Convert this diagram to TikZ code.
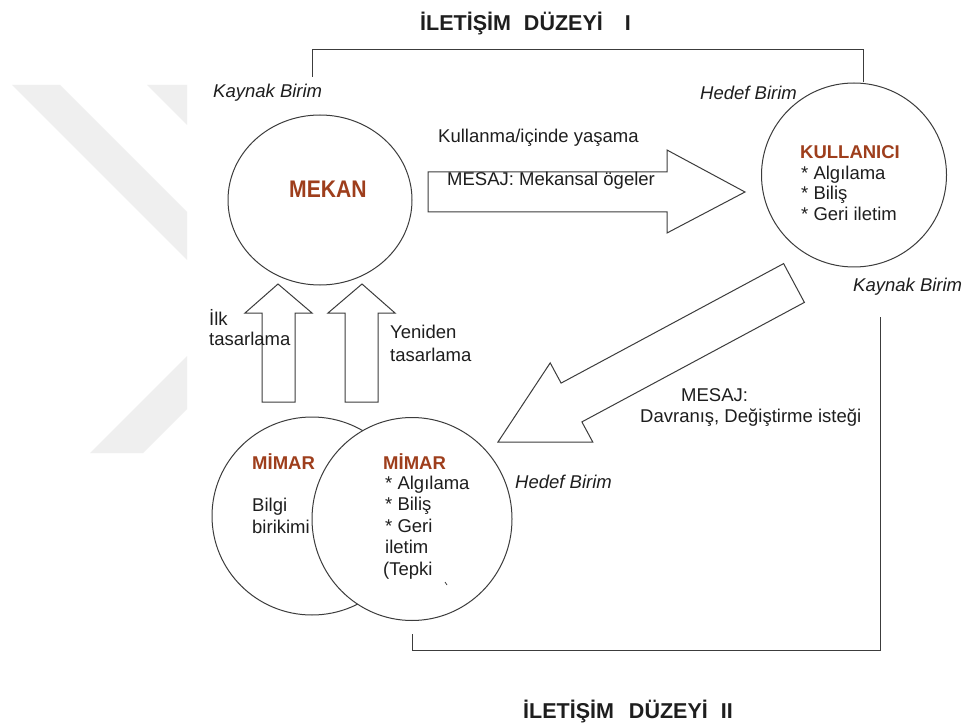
\documentclass[tikz,border=0pt]{standalone}
\usepackage{fontspec}
\setmainfont{Liberation Sans}
\usetikzlibrary{shapes.geometric}
\definecolor{ink}{RGB}{30,30,30}
\definecolor{linegray}{RGB}{60,60,60}
\definecolor{rust}{RGB}{158,62,28}
\definecolor{wmark}{RGB}{239,239,239}

\begin{document}
\begin{tikzpicture}[x=1pt,y=-1pt,
  txt/.style={inner sep=0pt, anchor=base west, text=ink, font=\fontsize{18.5}{22}\selectfont},
  lbl/.style={txt, font=\fontsize{18.5}{22}\selectfont\itshape},
  head/.style={txt, font=\fontsize{18.5}{22}\selectfont\bfseries, text=rust},
  big/.style={txt, font=\fontsize{24}{28}\selectfont\bfseries, text=rust},
  ttl/.style={txt, font=\fontsize{21.5}{24}\selectfont\bfseries},
  unit/.style={draw=linegray, line width=1pt, ellipse, inner sep=0pt},
  blockarrow/.style={draw=linegray, line width=1pt, line join=miter},
  link/.style={draw=linegray, line width=1pt}]
\useasboundingbox (0,0) rectangle (966,727);
\fill[white] (0,0) rectangle (966,727);

% faint background emblem
\fill[wmark] (12,85) -- (60,85) -- (187,212) -- (187,260) -- cycle;
\fill[wmark] (147,85) -- (187,85) -- (187,125) -- cycle;
\fill[wmark] (90,453) -- (143,453) -- (187,409) -- (187,356) -- cycle;

% titles
\node[ttl] (title1) at (420,31) {İLETİŞİM\hspace{13pt}DÜZEYİ\hspace{22pt}I};
\node[ttl] (title2) at (523,718) {İLETİŞİM\hspace{15pt}DÜZEYİ\hspace{13pt}II};

% units
\node[unit, minimum width=184pt, minimum height=170pt] (mekan) at (320,200) {};
\node[unit, minimum width=185pt, minimum height=184pt] (kullanici) at (854,175) {};
\node[unit, minimum width=200pt, minimum height=198pt] (mimarA) at (312,516) {};
\node[unit, fill=white, minimum width=200pt, minimum height=203pt] (mimarB) at (412,519) {};

% feedback brackets
\coordinate (b1s) at (312,77);
\coordinate (b1e) at (863,82);
\draw[link] (b1s) -- (b1s |- 0,50) -- (b1e |- 0,50) -- (b1e);
\coordinate (b2s) at (412,634);
\coordinate (b2e) at (880,317);
\draw[link] (b2s) -- (b2s |- 0,650) -- (b2e |- 0,650) -- (b2e);

% block arrows
\draw[blockarrow] (428,172) -- (667,172) -- (667,150) -- (745,192) -- (667,233) -- (667,212) -- (428,212) -- cycle;
\draw[blockarrow] (262,402) -- (262,313) -- (245,313) -- (278,284) -- (312,313) -- (295,313) -- (295,402) -- cycle;
\draw[blockarrow] (345,402) -- (345,313) -- (328,313) -- (362,284) -- (395,313) -- (378,313) -- (378,402) -- cycle;
\draw[blockarrow] (783.6,263.6) -- (804.4,302.4) -- (581.9,421.9) -- (592.8,442.1) -- (498,442) -- (550.2,362.9) -- (561.1,383.1) -- cycle;

% unit labels
\node[lbl] (src1) at (213,98) {Kaynak Birim};
\node[lbl] (dst1) at (700,100) {Hedef Birim};
\node[lbl] (src2) at (853,291) {Kaynak Birim};
\node[lbl] (dst2) at (515,488) {Hedef Birim};

% space
\node[big] (mekanT) at (289,198) {\scalebox{0.88}[1]{MEKAN}};

% user
\node[head] (kT) at (800,159) {KULLANICI};
\node[txt] (k1) at (801,180) {* Algılama};
\node[txt] (k2) at (801,200) {* Biliş};
\node[txt] (k3) at (801,221) {* Geri iletim};

% message 1
\node[txt] (m1a) at (438,143) {Kullanma/içinde yaşama};
\node[txt] (m1b) at (447,186) {MESAJ: Mekansal ögeler};

% message 2
\node[txt] (m2a) at (681,401) {MESAJ:};
\node[txt] (m2b) at (640,422) {Davranış, Değiştirme isteği};

% design arrows
\node[txt] (d1a) at (209,325) {İlk};
\node[txt] (d1b) at (209,345) {tasarlama};
\node[txt] (d2a) at (390,338) {Yeniden};
\node[txt] (d2b) at (390,361) {tasarlama};

% architect, knowledge
\node[head] (aT) at (252,469) {MİMAR};
\node[txt] (a1) at (252,511) {Bilgi};
\node[txt] (a2) at (252,533) {birikimi};

% architect, response
\node[head] (rT) at (383,469) {MİMAR};
\node[txt] (r1) at (385,489) {* Algılama};
\node[txt] (r2) at (385,510.5) {* Biliş};
\node[txt] (r3) at (385,532) {* Geri};
\node[txt] (r4) at (385,553.5) {iletim};
\node[txt] (r5) at (383,575) {(Tepki};
\draw[linegray, line width=0.8pt] (445,582) -- (447,585);
\end{tikzpicture}
\end{document}
